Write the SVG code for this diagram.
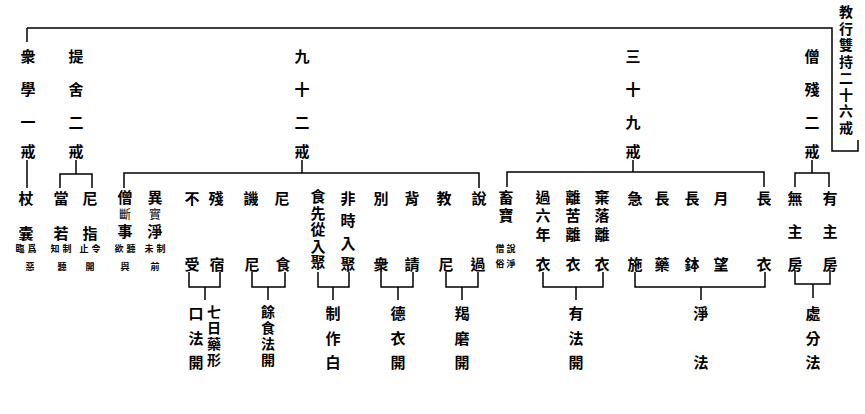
<svg xmlns="http://www.w3.org/2000/svg" width="865" height="414" viewBox="0 0 865 414">
<style>
.t{font-family:"Noto Sans CJK TC","Noto Sans CJK SC",sans-serif;font-size:15px;font-weight:bold;text-anchor:middle;dominant-baseline:central;fill:#000}
.v{writing-mode:vertical-rl;text-anchor:start}
.s{font-size:9px}
.m{font-size:12px;font-weight:normal}
.ln{stroke:#000;stroke-width:1.5;fill:none}
</style>
<rect width="865" height="414" fill="#fff"/>
<g id="connectors" class="ln">
<path d="M27,28 H832 V151 H858 V140"/>
<path d="M27,28 V42"/>
<path d="M27,160 V188"/>
<path d="M76,160 V174 M60,188 V174 H92 V188"/>
<path d="M302,160 V173 M124,188 V173 H479 V188"/>
<path d="M633,160 V172 M507,187 V172 H764 V187"/>
<path d="M812,160 V173 M795,187 V173 H829 V187"/>
<path d="M189,272 V287 H220 V272 M205,287 V300"/>
<path d="M252,272 V287 H285 V272 M268,287 V300"/>
<path d="M318,272 V287 H349 V272 M333,287 V300"/>
<path d="M381,272 V287 H413 V272 M398,287 V300"/>
<path d="M446,272 V287 H478 V272 M462,287 V300"/>
<path d="M543,272 V287 H603 V272 M576,287 V300"/>
<path d="M635,272 V287 H765 V272 M701,287 V300"/>
<path d="M795,270 V284 H830 V270 M813,284 V298"/>
</g>
<g id="title" class="t">
<text class="v" x="846" y="5" style="font-size:14px;letter-spacing:2.5px">教行雙持二十六戒</text>
</g>
<g id="n-zhongxue" class="t"><text x="28" y="55">衆</text><text x="28" y="88">學</text><text x="28" y="121">一</text><text x="28" y="150">戒</text></g>
<g id="n-tishe" class="t"><text x="76" y="55">提</text><text x="76" y="88">舍</text><text x="76" y="121">二</text><text x="76" y="150">戒</text></g>
<g id="n-jiushi" class="t"><text x="302" y="55">九</text><text x="302" y="88">十</text><text x="302" y="121">二</text><text x="302" y="150">戒</text></g>
<g id="n-sanshi" class="t"><text x="633" y="55">三</text><text x="633" y="88">十</text><text x="633" y="121">九</text><text x="633" y="150">戒</text></g>
<g id="n-sengcan" class="t"><text x="812" y="55">僧</text><text x="812" y="88">殘</text><text x="812" y="121">二</text><text x="812" y="150">戒</text></g>

<g id="n-zhang" class="t"><text x="26" y="197">杖</text><text x="26" y="232">囊</text>
<text class="s" x="20" y="248">臨</text><text class="s" x="32" y="248">爲</text><text class="s" x="30" y="266">惡</text></g>
<g id="n-dang" class="t"><text x="61" y="197">當</text><text x="61" y="232">若</text>
<text class="s" x="55" y="248">知</text><text class="s" x="67" y="248">制</text><text class="s" x="62" y="266">聽</text></g>
<g id="n-nizhi" class="t"><text x="90" y="197">尼</text><text x="90" y="232">指</text>
<text class="s" x="84" y="248">止</text><text class="s" x="96" y="248">令</text><text class="s" x="90" y="266">開</text></g>
<g id="n-sengduan" class="t"><text class="v" x="125" y="189.5" style="letter-spacing:3.5px">僧<tspan style="font-size:12px;font-weight:normal">斷</tspan>事</text>
<text class="s" x="119" y="248">欲</text><text class="s" x="131" y="248">聽</text><text class="s" x="125" y="266">與</text></g>
<g id="n-yishi" class="t"><text class="v" x="155" y="189.5" style="letter-spacing:3.5px">異<tspan style="font-size:12px;font-weight:normal">實</tspan>淨</text>
<text class="s" x="149" y="248">未</text><text class="s" x="161" y="248">制</text><text class="s" x="155" y="266">前</text></g>
<g id="n-bushou" class="t"><text x="192" y="197">不</text><text x="192" y="263">受</text></g>
<g id="n-cansu" class="t"><text x="216" y="197">殘</text><text x="217" y="263">宿</text></g>
<g id="n-jini" class="t"><text x="251" y="197">譏</text><text x="252" y="263">尼</text></g>
<g id="n-nishi" class="t"><text x="282" y="197">尼</text><text x="283" y="263">食</text></g>
<g id="n-shixian" class="t"><text class="v" x="318" y="189" style="letter-spacing:1.5px">食先從入聚</text></g>
<g id="n-feishi" class="t"><text x="348" y="197">非</text><text x="348" y="219">時</text><text x="348" y="242">入</text><text x="348" y="263">聚</text></g>
<g id="n-biezhong" class="t"><text x="381" y="197">別</text><text x="381" y="263">衆</text></g>
<g id="n-beiqing" class="t"><text x="412" y="197">背</text><text x="412" y="263">請</text></g>
<g id="n-jiaoni" class="t"><text x="444" y="197">教</text><text x="446" y="263">尼</text></g>
<g id="n-shuoguo" class="t"><text x="479" y="197">說</text><text x="478" y="263">過</text></g>

<g id="n-xubao" class="t"><text class="v" x="506" y="189.5" style="letter-spacing:3px">畜寶</text>
<text class="s" x="500" y="248">僧</text><text class="s" x="511" y="248">說</text><text class="s" x="500" y="263">俗</text><text class="s" x="511" y="263">淨</text></g>
<g id="n-guoliu" class="t"><text class="v" x="543" y="189.5" style="letter-spacing:3.5px">過六年</text><text x="543" y="263">衣</text></g>
<g id="n-liku" class="t"><text class="v" x="573" y="189.5" style="letter-spacing:3.5px">離苦離</text><text x="573" y="263">衣</text></g>
<g id="n-qiluo" class="t"><text class="v" x="602" y="189.5" style="letter-spacing:3.5px">棄落離</text><text x="602" y="263">衣</text></g>
<g id="n-jishi" class="t"><text x="635" y="197">急</text><text x="635" y="263">施</text></g>
<g id="n-changyao" class="t"><text x="662" y="197">長</text><text x="662" y="263">藥</text></g>
<g id="n-changbo" class="t"><text x="692" y="197">長</text><text x="692" y="263">鉢</text></g>
<g id="n-yuewang" class="t"><text x="721" y="197">月</text><text x="721" y="263">望</text></g>
<g id="n-changyi" class="t"><text x="764" y="197">長</text><text x="764" y="263">衣</text></g>
<g id="n-wuzhu" class="t"><text x="795" y="197">無</text><text x="795" y="230">主</text><text x="795" y="263">房</text></g>
<g id="n-youzhu" class="t"><text x="830" y="197">有</text><text x="830" y="230">主</text><text x="830" y="263">房</text></g>

<g id="n-koufa" class="t"><text x="196" y="312">口</text><text x="196" y="337">法</text><text x="196" y="361">開</text>
<text class="v" x="214" y="305" style="font-size:14px;letter-spacing:2px">七日藥形</text></g>
<g id="n-yushi" class="t"><text class="v" x="268" y="305" style="font-size:14px;letter-spacing:2px">餘食法開</text></g>
<g id="n-zhizuo" class="t"><text x="333" y="312">制</text><text x="333" y="337">作</text><text x="333" y="361">白</text></g>
<g id="n-deyi" class="t"><text x="398" y="312">德</text><text x="398" y="337">衣</text><text x="398" y="361">開</text></g>
<g id="n-jiemo" class="t"><text x="462" y="312">羯</text><text x="462" y="337">磨</text><text x="462" y="361">開</text></g>
<g id="n-youfa" class="t"><text x="576" y="312">有</text><text x="576" y="337">法</text><text x="576" y="361">開</text></g>
<g id="n-jingfa" class="t"><text x="701" y="312">淨</text><text x="701" y="361">法</text></g>
<g id="n-chufen" class="t"><text x="813" y="312">處</text><text x="813" y="337">分</text><text x="813" y="361">法</text></g>
</svg>
